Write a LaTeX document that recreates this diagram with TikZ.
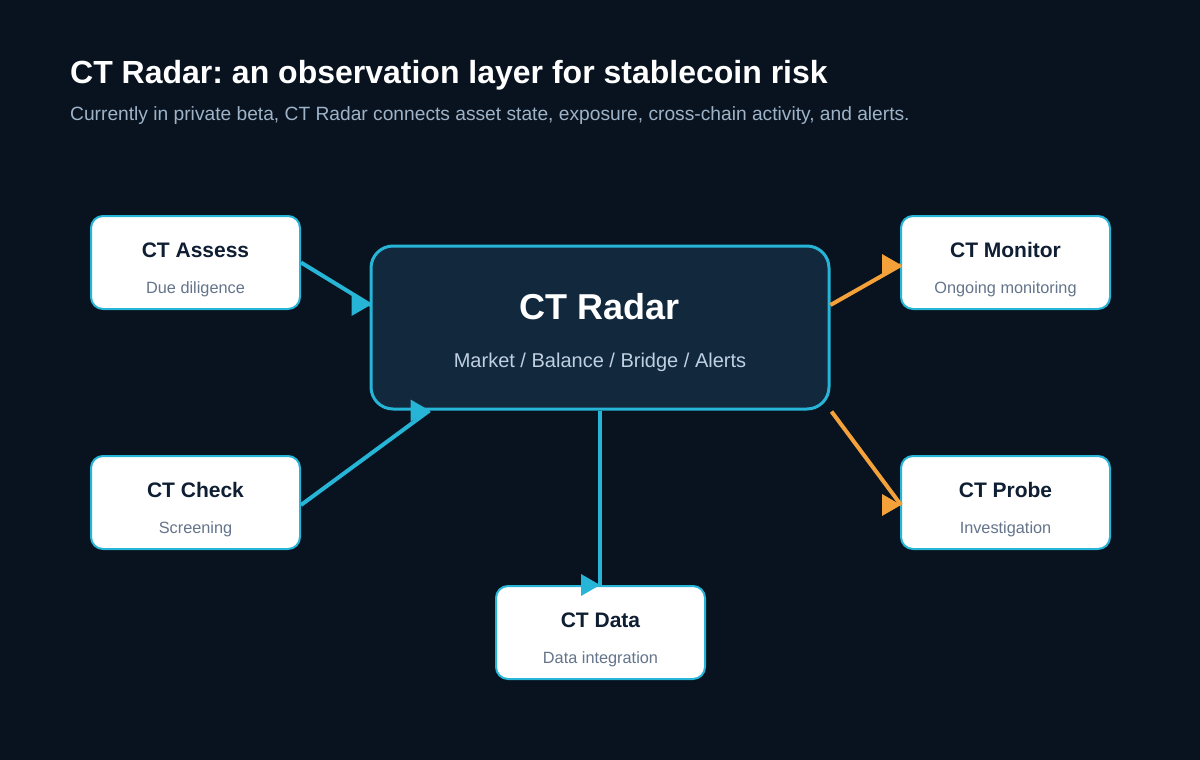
\documentclass[tikz,border=0pt]{standalone}
\usepackage{fontspec}
\setmainfont{Liberation Sans}
\usepackage{xcolor}
\usepackage{tikz}
\usetikzlibrary{calc, positioning}
\definecolor{CTBg}{RGB}{8, 19, 31}
\definecolor{CTCore}{RGB}{18, 40, 61}
\definecolor{CTCyan}{RGB}{38, 181, 214}
\definecolor{CTOrange}{RGB}{244, 161, 58}
\definecolor{CTTextDark}{RGB}{15, 30, 51}
\definecolor{CTTextMuted}{RGB}{100, 116, 139}
\definecolor{CTSubtitle}{RGB}{159, 179, 200}
\definecolor{CTCoreSub}{RGB}{190, 208, 225}
\frenchspacing

\tikzset{
  sidebox/.style={draw=CTCyan, line width=2pt, fill=white, rounded corners=12pt,
    minimum width=209pt, minimum height=93pt, inner sep=0pt},
  corebox/.style={draw=CTCyan, line width=3pt, fill=CTCore, rounded corners=22pt,
    minimum width=458pt, minimum height=163pt, inner sep=0pt},
  boxtitle/.style={anchor=base, inner sep=0pt, text=CTTextDark,
    font=\fontsize{21}{25}\selectfont\bfseries},
  boxsub/.style={anchor=base, inner sep=0pt, text=CTTextMuted,
    font=\fontsize{16.3}{19}\selectfont},
  link/.style={line width=4pt},
}

% white product box with title and subtitle
\newcommand{\ctbox}[5]{%
  \node[sidebox] (#1) at (#2,#3) {};
  \node[boxtitle] (#1-title) at ($(#1.center)+(0,-5.5)$) {#4};
  \node[boxsub] (#1-sub) at ($(#1.center)+(0,30.5)$) {#5};
}
% marker that always points to the right
\newcommand{\tipright}[2]{\fill[#1] (#2) -- ++(-19,-11) -- ++(0,22) -- cycle;}

\begin{document}
\begin{tikzpicture}[x=1pt, y=-1pt]
    \path[use as bounding box, fill=CTBg] (0,0) rectangle (1200,760);

    \node[anchor=base west, inner sep=0pt, text=white,
      font=\fontsize{32}{38}\selectfont\bfseries] (title) at (70,83.5)
      {CT Radar: an observation layer for stablecoin risk};
    \node[anchor=base west, inner sep=0pt, text=CTSubtitle,
      font=\fontsize{19.2}{23}\selectfont] (subtitle) at (70,121)
      {Currently in private beta, CT Radar connects asset state, exposure, cross-chain activity, and alerts.};

    % core
    \node[corebox] (radar) at (600,327.5) {};
    \node[anchor=base, inner sep=0pt, text=white,
      font=\fontsize{36}{42}\selectfont\bfseries] (radar-title) at (600,319) {CT Radar};
    \node[anchor=base, inner sep=0pt, text=CTCoreSub,
      font=\fontsize{20}{24}\selectfont] (radar-sub) at (600,367) {Market / Balance / Bridge / Alerts};

    \ctbox{assess}{195.5}{262.5}{CT Assess}{Due diligence}
    \ctbox{check}{195.5}{502.5}{CT Check}{Screening}
    \ctbox{monitor}{1005.5}{262.5}{CT Monitor}{Ongoing monitoring}
    \ctbox{probe}{1005.5}{502.5}{CT Probe}{Investigation}
    \ctbox{data}{600.5}{632.5}{CT Data}{Data integration}

    % inputs
    \draw[link, CTCyan] (assess.east) -- ($(radar.west)+(1,-22.5)$) coordinate (in1);
    \tipright{CTCyan}{in1}
    \draw[link, CTCyan] ($(check.east)+(0,2.5)$) -- ($(radar.south west)+(60,0)$) coordinate (in2);
    \tipright{CTCyan}{in2}

    % outputs
    \draw[link, CTOrange] ($(radar.east)+(0,-22.5)$) -- ($(monitor.west)+(1,2.5)$) coordinate (out1);
    \tipright{CTOrange}{out1}
    \draw[link, CTOrange] ($(radar.south east)+(1,1)$) -- ($(probe.west)+(1,2.5)$) coordinate (out2);
    \tipright{CTOrange}{out2}
    \draw[link, CTCyan] (radar.south) -- (radar.south |- data.north) coordinate (out3);
    \tipright{CTCyan}{out3}
\end{tikzpicture}
\end{document}
